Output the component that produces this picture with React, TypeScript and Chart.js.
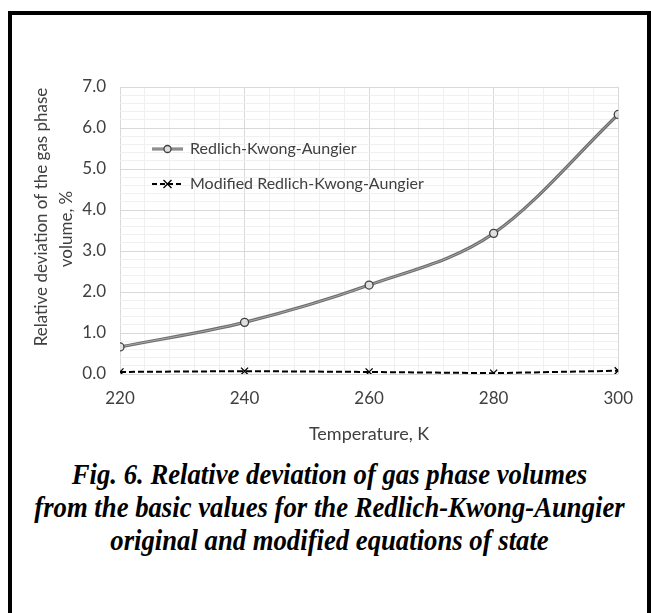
import React, { useEffect, useRef } from "react";
import { Chart, registerables } from "chart.js";

Chart.register(...registerables);

const temperatures = [220, 240, 260, 280, 300];
const rkaValues = [0.66, 1.26, 2.17, 3.43, 6.33];
const modifiedValues = [0.05, 0.07, 0.05, 0.02, 0.08];
const seriesNames = ["Redlich-Kwong-Aungier", "Modified Redlich-Kwong-Aungier"];
const xTitle = "Temperature, K";
const yTitle = ["Relative deviation of the gas phase", "volume, %"];
const captionLines = [
  "Fig. 6. Relative deviation of gas phase volumes",
  "from the basic values for the Redlich-Kwong-Aungier",
  "original and modified equations of state",
];

const FONT = "Lato, 'Open Sans', sans-serif";
const TEXT = "#404040";

const legendPlugin = {
  id: "insideLegend",
  afterDraw(chart: any) {
    const ctx = chart.ctx;
    const a = chart.chartArea;
    const x0 = a.left + 32;
    const rows = [a.top + 62, a.top + 97];
    ctx.save();
    let y = rows[0];
    ctx.strokeStyle = "#6e6e6e";
    ctx.lineWidth = 3;
    ctx.setLineDash([]);
    ctx.beginPath();
    ctx.moveTo(x0, y);
    ctx.lineTo(x0 + 31, y);
    ctx.stroke();
    ctx.strokeStyle = "#b0b0b0";
    ctx.lineWidth = 1;
    ctx.beginPath();
    ctx.moveTo(x0, y);
    ctx.lineTo(x0 + 31, y);
    ctx.stroke();
    ctx.beginPath();
    ctx.arc(x0 + 15.5, y, 3.5, 0, Math.PI * 2);
    ctx.fillStyle = "#e0e0e0";
    ctx.fill();
    ctx.strokeStyle = "#404040";
    ctx.lineWidth = 1.3;
    ctx.stroke();
    y = rows[1];
    ctx.strokeStyle = "#000";
    ctx.lineWidth = 2;
    ctx.setLineDash([5, 3]);
    ctx.beginPath();
    ctx.moveTo(x0, y);
    ctx.lineTo(x0 + 31, y);
    ctx.stroke();
    ctx.setLineDash([]);
    ctx.lineWidth = 1.3;
    const c = x0 + 15.5;
    const r = 4;
    ctx.beginPath();
    ctx.moveTo(c - r, y - r);
    ctx.lineTo(c + r, y + r);
    ctx.moveTo(c - r, y + r);
    ctx.lineTo(c + r, y - r);
    ctx.stroke();
    ctx.fillStyle = TEXT;
    ctx.font = "16px " + FONT;
    ctx.textBaseline = "middle";
    ctx.textAlign = "left";
    ctx.fillText(seriesNames[0], x0 + 38, rows[0]);
    ctx.fillText(seriesNames[1], x0 + 38, rows[1]);

    // rotated y-axis title
    ctx.font = "17px " + FONT;
    ctx.textAlign = "center";
    ctx.textBaseline = "middle";
    const centersX = [30, 55];
    const centersY = [a.top + 130, a.top + 142];
    yTitle.forEach((line, i) => {
      ctx.save();
      ctx.translate(centersX[i], centersY[i]);
      ctx.rotate(-Math.PI / 2);
      ctx.fillText(line, 0, 0);
      ctx.restore();
    });
    ctx.restore();
  },
};

function isInt(v: number) {
  return Math.abs(v - Math.round(v)) < 1e-6;
}

export default function App() {
  const ref = useRef<HTMLCanvasElement | null>(null);

  useEffect(() => {
    if (!ref.current) return;
    const pts = (vals: number[]) => temperatures.map((t, i) => ({ x: t, y: vals[i] }));
    const chart = new Chart(ref.current, {
      type: "line",
      data: {
        datasets: [
          {
            label: seriesNames[0] + " points",
            data: pts(rkaValues),
            showLine: false,
            pointStyle: "circle",
            pointRadius: 4,
            pointBackgroundColor: "#e0e0e0",
            pointBorderColor: "#404040",
            pointBorderWidth: 1.3,
            order: 0,
          },
          {
            label: seriesNames[0] + " core",
            data: pts(rkaValues),
            borderColor: "#a8a8a8",
            borderWidth: 1,
            pointRadius: 0,
            cubicInterpolationMode: "monotone",
            order: 1,
          },
          {
            label: seriesNames[0],
            data: pts(rkaValues),
            borderColor: "#6e6e6e",
            borderWidth: 3.2,
            pointRadius: 0,
            cubicInterpolationMode: "monotone",
            order: 2,
          },
          {
            label: seriesNames[1],
            data: pts(modifiedValues),
            borderColor: "#000",
            borderWidth: 2,
            borderDash: [6, 3],
            pointStyle: "crossRot",
            pointRadius: 5,
            pointBorderColor: "#000",
            pointBorderWidth: 1.3,
            tension: 0,
            order: 0,
          },
        ],
      },
      options: {
        animation: false,
        responsive: true,
        maintainAspectRatio: false,
        layout: { padding: { left: 0, top: 72, right: 28, bottom: 10 } },
        plugins: { legend: { display: false }, tooltip: { enabled: false } },
        scales: {
          x: {
            type: "linear",
            min: 220,
            max: 300,
            border: { display: false },
            grid: {
              drawTicks: false,
              color: (c: any) => (c.tick && Math.round(c.tick.value) % 20 === 0 ? "#d9d9d9" : "#f0f0f0"),
            },
            ticks: {
              stepSize: 4,
              autoSkip: false,
              maxRotation: 0,
              padding: 14,
              color: TEXT,
              font: { family: FONT, size: 17 },
              callback: (v: any) => (Math.round(v) % 20 === 0 ? String(Math.round(v)) : ""),
            },
            title: {
              display: true,
              text: xTitle,
              color: TEXT,
              font: { family: FONT, size: 18 },
              padding: { top: 1, bottom: 0 },
            },
          },
          y: {
            min: 0,
            max: 7,
            border: { display: false },
            afterFit: (s: any) => {
              s.width = 108;
            },
            grid: {
              drawTicks: false,
              color: (c: any) => (c.tick && isInt(c.tick.value) ? "#d9d9d9" : "#f0f0f0"),
            },
            ticks: {
              stepSize: 0.2,
              autoSkip: false,
              padding: 14,
              color: TEXT,
              font: { family: FONT, size: 17 },
              callback: (v: any) => (isInt(v) ? Number(v).toFixed(1) : ""),
            },
            title: { display: false },
          },
        },
      },
      plugins: [legendPlugin],
    } as any);
    return () => chart.destroy();
  }, []);

  return (
    <div
      style={{
        position: "absolute",
        left: 8,
        top: 11,
        width: 643,
        height: 602,
        border: "4px solid #000",
        borderBottom: "none",
        boxSizing: "border-box",
        background: "#fff",
        overflow: "hidden",
      }}
    >
      <div style={{ position: "absolute", left: 0, top: 0, width: 635, height: 440 }}>
        <canvas ref={ref} />
      </div>
      <div
        style={{
          position: "absolute",
          left: -100,
          top: 442,
          width: 835,
          textAlign: "center",
          fontFamily: "'Liberation Serif', 'Times New Roman', serif",
          fontStyle: "italic",
          fontWeight: "bold",
          fontSize: 30,
          lineHeight: "33px",
          color: "#000",
          transform: "scaleX(0.89)",
          transformOrigin: "center top",
          whiteSpace: "nowrap",
        }}
      >
        {captionLines.map((l, i) => (
          <div key={i}>{l}</div>
        ))}
      </div>
    </div>
  );
}
